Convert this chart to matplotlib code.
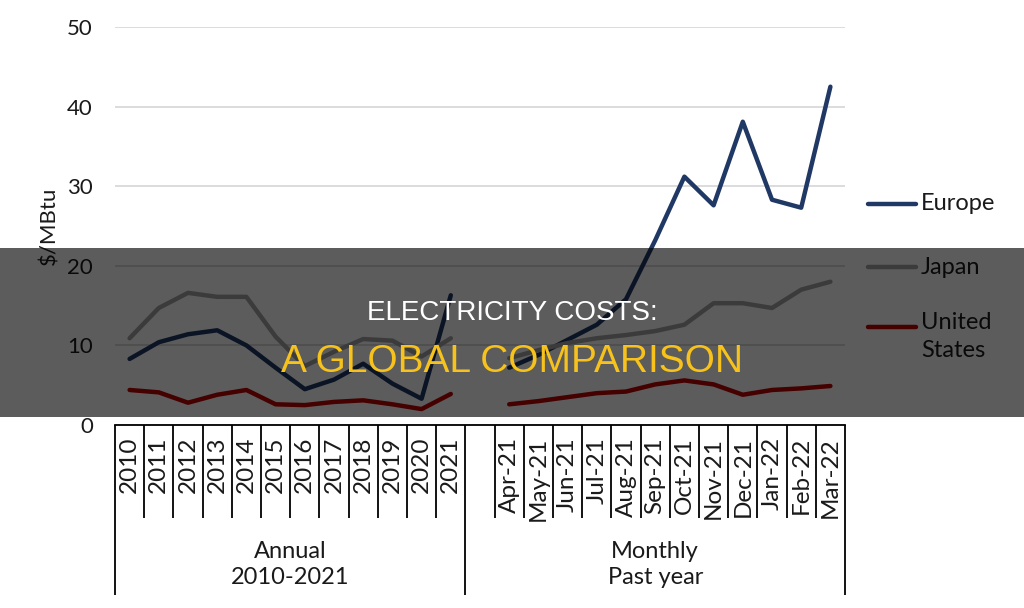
#!/usr/bin/env python3

import numpy as np
import matplotlib.pyplot as plt
from matplotlib.lines import Line2D
from matplotlib.patches import Rectangle

plt.rcParams['font.family'] = ['Lato', 'DejaVu Sans']

years = ["2010", "2011", "2012", "2013", "2014", "2015", "2016", "2017", "2018", "2019", "2020", "2021"]
months = ["Apr-21", "May-21", "Jun-21", "Jul-21", "Aug-21", "Sep-21", "Oct-21", "Nov-21",
          "Dec-21", "Jan-22", "Feb-22", "Mar-22"]
categories = years + [""] + months
groups = ["Annual\n2010-2021", "Monthly\nPast year"]

nan = np.nan
europe = [8.3, 10.4, 11.4, 11.9, 10.0, 7.2, 4.5, 5.7, 7.7, 5.2, 3.3, 16.3, nan,
          7.2, 8.8, 10.7, 12.6, 15.8, 23.2, 31.2, 27.6, 38.1, 28.3, 27.3, 42.5]
japan = [10.9, 14.7, 16.6, 16.1, 16.1, 11.1, 7.4, 9.2, 10.8, 10.6, 8.6, 10.9, nan,
         8.4, 9.4, 10.3, 10.9, 11.3, 11.8, 12.6, 15.3, 15.3, 14.7, 17.0, 18.0]
usa = [4.4, 4.1, 2.8, 3.8, 4.4, 2.6, 2.5, 2.9, 3.1, 2.6, 2.0, 3.9, nan,
       2.6, 3.0, 3.5, 4.0, 4.2, 5.1, 5.6, 5.1, 3.8, 4.4, 4.6, 4.9]
series_names = ["Europe", "Japan", "United\nStates"]
colors = ["#203864", "#A5A5A5", "#C00000"]

text_color = "#1a1a1a"
fig = plt.figure(figsize=(10.24, 6.08), dpi=100)
ax = fig.add_axes([115 / 1024, 183 / 608, 730 / 1024, 398 / 608])

x = np.arange(len(categories))
for values, color in zip([europe, japan, usa], colors):
    ax.plot(x, values, "-", color=color, lw=3.2, solid_capstyle="round", solid_joinstyle="round", zorder=3)

ax.set_ylim(0, 50)
ax.set_yticks([10 * j for j in range(6)])
ax.set_yticklabels([str(10 * j) for j in range(6)], fontsize=16, color=text_color)
ax.tick_params(axis="y", length=0, pad=16)
ax.yaxis.grid(True, color="#D9D9D9", lw=1.3)
ax.set_axisbelow(True)
for s in ax.spines.values():
    s.set_visible(False)
ax.set_ylabel("$/MBtu", fontsize=16, color=text_color)
ax.yaxis.set_label_coords(-56 / 730, 0.5)

# multi-level category axis
ax.set_xticks([])
ax.set_xlim(-0.5, len(categories) - 0.5)
ax.axhline(0, color="black", lw=1.3, zorder=4, clip_on=False)
tr = ax.get_xaxis_transform()
for b in np.arange(-0.5, len(categories), 1.0):
    long_line = b in (-0.5, 11.5, len(categories) - 0.5)
    ax.vlines(b, -0.428 if long_line else -0.234, 0, transform=tr, color="black", lw=1.3, clip_on=False)
for xi, lab in zip(x, categories):
    ax.text(xi, -0.03, lab, transform=tr, rotation=90, ha="center", va="top",
            fontsize=17.5, color=text_color, clip_on=False)
ax.text(5.5, -0.35, groups[0], transform=tr, ha="center", va="center", fontsize=17,
        color=text_color, linespacing=1.3)
ax.text(18, -0.35, groups[1], transform=tr, ha="center", va="center", fontsize=17,
        color=text_color, linespacing=1.3)

# legend
leg_y = [204, 267, 327]
for name, color, yp in zip(series_names, colors, leg_y):
    fy = (608 - yp) / 608
    fig.add_artist(Line2D([868 / 1024, 916 / 1024], [fy, fy], transform=fig.transFigure,
                          color=color, lw=3.2, solid_capstyle="round"))
    if "\n" in name:
        fig.text(921 / 1024, (608 - (yp - 15)) / 608, name, fontsize=17, color=text_color,
                 ha="left", va="top", linespacing=1.4)
    else:
        fig.text(921 / 1024, fy, name, fontsize=17, color=text_color, ha="left", va="center")

# dark banner with title
fig.add_artist(Rectangle((0, 191 / 608), 1, 169 / 608, transform=fig.transFigure,
                         facecolor="black", alpha=0.64, edgecolor="none", zorder=10))
fig.text(0.5, (608 - 320) / 608, "ELECTRICITY COSTS:", ha="center", va="baseline",
         fontsize=20, color="white", family="Liberation Sans", zorder=11)
fig.text(0.5, (608 - 372) / 608, "A GLOBAL COMPARISON", ha="center", va="baseline",
         fontsize=28, color="#F7C21B", family="Liberation Sans", zorder=11)

plt.savefig("out.png", dpi=100)
